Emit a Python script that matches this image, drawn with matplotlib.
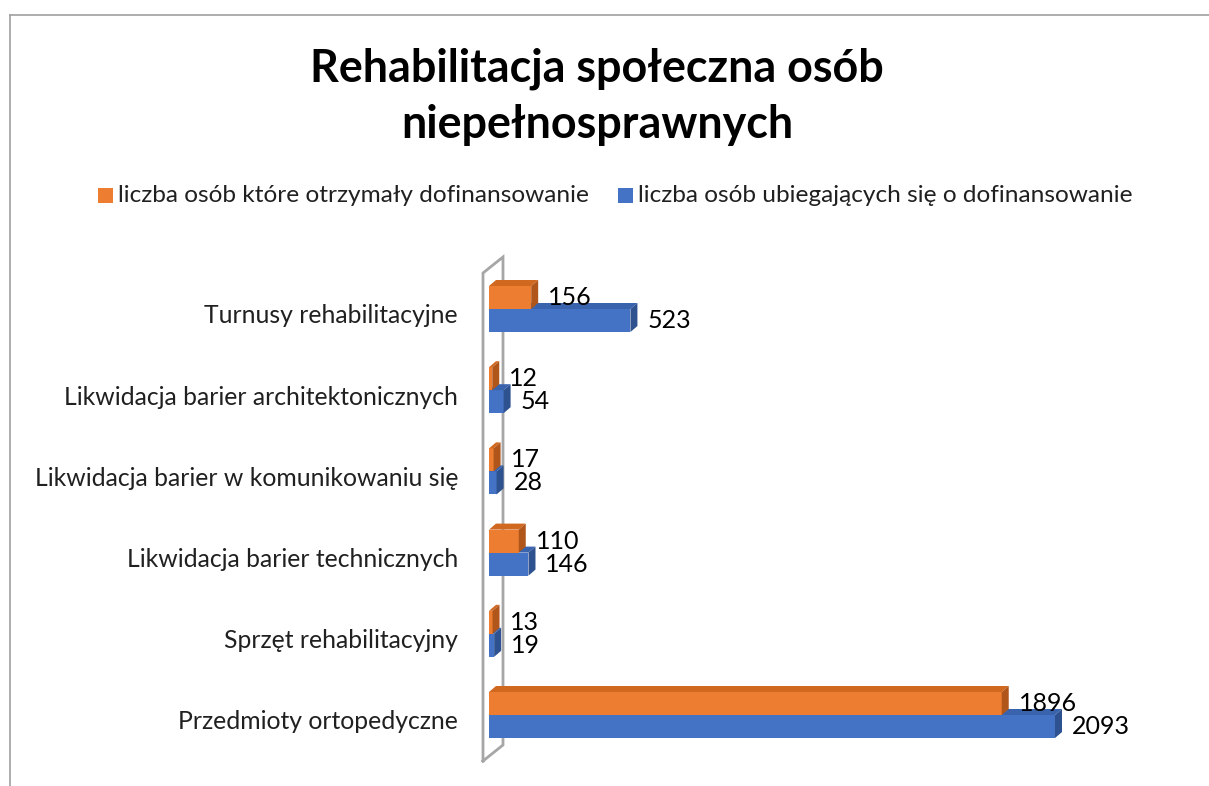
import matplotlib
matplotlib.use("Agg")
import matplotlib.pyplot as plt
from matplotlib.patches import Polygon, Rectangle
from matplotlib.lines import Line2D
import numpy as np

plt.rcParams['font.family'] = ['Lato', 'DejaVu Sans']

categories = ["Turnusy rehabilitacyjne",
              "Likwidacja barier architektonicznych",
              "Likwidacja barier w komunikowaniu się",
              "Likwidacja barier technicznych",
              "Sprzęt rehabilitacyjny",
              "Przedmioty ortopedyczne"]
received = [156, 12, 17, 110, 13, 1896]
applied = [523, 54, 28, 146, 19, 2093]
series_names = ["liczba osób które otrzymały dofinansowanie",
                "liczba osób ubiegających się o dofinansowanie"]
title_lines = ["Rehabilitacja społeczna osób", "niepełnosprawnych"]

W, H = 1209, 786
fig = plt.figure(figsize=(W / 100, H / 100), dpi=100)

# axes geometry in pixels
x0_px, x1_px = 489, 1150
ytop_px, ybot_px = 250, 770
px_per_unit = 566 / 2093.0
px_per_cat = 81.2
first_center_px = 309

ax = fig.add_axes([x0_px / W, (H - ybot_px) / H, (x1_px - x0_px) / W, (ybot_px - ytop_px) / H])
ax.set_xlim(0, (x1_px - x0_px) / px_per_unit)
ax.set_ylim((ybot_px - first_center_px) / px_per_cat, (ytop_px - first_center_px) / px_per_cat)
ax.axis('off')

def dxu(px):
    return px / px_per_unit

def dyu(px):
    return px / px_per_cat

bar_h = dyu(23)
ddx, ddy = dxu(7), dyu(-6)

# back wall
wall_color = '#A6A6A6'
n = len(categories)
lx, rx = dxu(-6), dxu(14)
lt, lb = dyu(273 - first_center_px), dyu(761 - first_center_px)
rt, rb = dyu(257 - first_center_px), dyu(745 - first_center_px)
ax.plot([lx, lx, rx, rx, lx], [lb, lt, rt, rb, lb], color=wall_color, lw=2,
        solid_joinstyle='miter', zorder=1, clip_on=False)

pos = np.arange(n)

def bar3d(y_top, value, front, top, side, z):
    ax.barh([y_top + bar_h / 2], [value], height=bar_h, color=front, zorder=z)
    ax.add_patch(Polygon([[0, y_top], [value, y_top], [value + ddx, y_top + ddy], [ddx, y_top + ddy]],
                         closed=True, facecolor=top, edgecolor='none', zorder=z))
    ax.add_patch(Polygon([[value, y_top], [value + ddx, y_top + ddy], [value + ddx, y_top + bar_h + ddy],
                          [value, y_top + bar_h]], closed=True, facecolor=side, edgecolor='none', zorder=z))

o_front, o_top, o_side = '#ED7D31', '#D0681F', '#B0561A'
b_front, b_top, b_side = '#4472C4', '#3A63AE', '#2E5290'

lab_fs = 17.8
val_fs = 18
for i in range(n):
    bar3d(pos[i], applied[i], b_front, b_top, b_side, 2 + i * 2)
    bar3d(pos[i] - bar_h, received[i], o_front, o_top, o_side, 3 + i * 2)
    ax.annotate(str(received[i]), (received[i], pos[i] - bar_h / 2), xytext=(12.2, 0),
                textcoords='offset points', va='center', ha='left', fontsize=val_fs, color='black', zorder=20)
    ax.annotate(str(applied[i]), (applied[i], pos[i] + bar_h / 2), xytext=(12.2, 0),
                textcoords='offset points', va='center', ha='left', fontsize=val_fs, color='black', zorder=20)
    ax.annotate(categories[i], (0, pos[i] + dyu(7)), xytext=(-22.3, 0), textcoords='offset points',
                va='center', ha='right', fontsize=lab_fs, color='#202020', annotation_clip=False)

# title
for k, line in enumerate(title_lines):
    fig.text(597 / W, 1 - (82 + 56 * k) / H, line, ha='center', va='baseline', fontsize=32.3,
             fontweight='bold')

# legend (manual)
leg_fs = 17.6
leg_y = 195.5
for (sx, tx), col, name in zip([(98, 118), (618, 638)], [o_front, b_front], series_names):
    fig.add_artist(Rectangle((sx / W, 1 - (leg_y + 7.5) / H), 15 / W, 15 / H, facecolor=col,
                             edgecolor='none', transform=fig.transFigure))
    fig.text(tx / W, 1 - leg_y / H, name, ha='left', va='center', fontsize=leg_fs, color='#202020')

# chart area border
bc = '#A0A0A0'
fig.add_artist(Line2D([10 / W, 1.0], [1 - 15 / H, 1 - 15 / H], color=bc, lw=1.2))
fig.add_artist(Line2D([10 / W, 10 / W], [1 - 15 / H, 0], color=bc, lw=1.2))

fig.savefig('out.png', dpi=100, facecolor='white')
